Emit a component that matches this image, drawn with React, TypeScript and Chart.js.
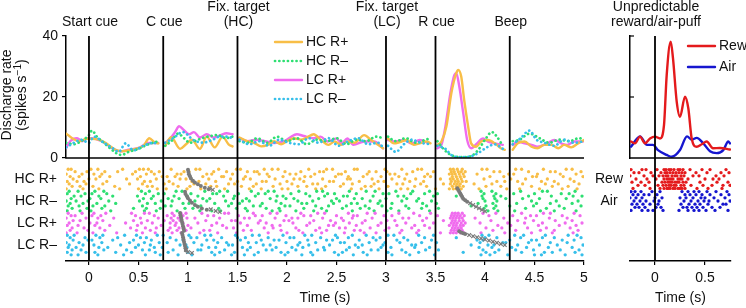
import React, { useEffect, useRef } from "react";
import { Chart, registerables } from "chart.js";

Chart.register(...registerables);

const W = 746;
const H = 308;
const FONT = "'Liberation Sans', Arial, Helvetica, sans-serif";
const INK = "#111";

const COL_HCRP = "#F8BE47";
const COL_HCRM = "#2EDF72";
const COL_LCRP = "#F06CEE";
const COL_LCRM = "#36BFEA";
const COL_REW = "#E41A1C";
const COL_AIR = "#1616CF";
const COL_GRAY = "#7A7A7A";

// ---------- axes / labels ----------
const MAIN_X_MIN = -0.232;
const MAIN_X_MAX = 5.0;
const MAIN_X_TICKS = [0, 0.5, 1, 1.5, 2, 2.5, 3, 3.5, 4, 4.5, 5];
const SIDE_X_MIN = -0.25;
const SIDE_X_MAX = 0.76;
const SIDE_X_TICKS = [0, 0.5];
const RATE_TICKS = [0, 20, 40];
const SIDE_RATE_TICKS = [20, 40];
const EVENT_TIMES = [0, 0.75, 1.5, 3.0, 3.5, 4.25];
const EVENT_LABELS = [["Start cue"], ["C cue"], ["Fix. target", "(HC)"], ["Fix. target", "(LC)"], ["R cue"], ["Beep"]];
const ROW_LABELS = ["HC R+", "HC R–", "LC R+", "LC R–"];
const SIDE_ROW_LABELS = ["Rew", "Air"];
const RASTER_Y_MIN = -0.455;
const RASTER_Y_MAX = 4.227;

// ---------- discharge rate curves: [time (s), rate (spikes/s)], null = break ----------
const HC_RP = [
  [-0.23, 8.0], [-0.17, 6.5], [-0.1, 5.5], [-0.02, 6.3], [0.03, 6.3], [0.1, 6.0], [0.17, 4.9], [0.27, 2.7], [0.33, 2.2], [0.43, 2.7], [0.5, 3.2], [0.55, 4.0], [0.61, 6.5], [0.66, 5.2], [0.7, 4.8],
  [0.74, null],
  [0.77, 4.0], [0.83, 6.8], [0.92, 3.0], [0.98, 4.5], [1.04, 6.0], [1.12, 3.0], [1.19, 7.0], [1.27, 3.5], [1.35, 7.0], [1.41, 4.5], [1.45, 3.8],
  [1.49, null],
  [1.52, 6.7], [1.6, 5.5], [1.67, 4.9], [1.74, 3.8], [1.8, 4.2], [1.87, 5.5], [1.94, 4.5], [2.0, 5.5], [2.07, 6.5], [2.14, 6.0], [2.2, 6.7], [2.27, 7.8], [2.34, 6.0], [2.42, 4.3], [2.48, 5.4], [2.55, 4.3], [2.61, 5.4], [2.68, 5.0], [2.78, 7.5], [2.85, 5.9], [2.92, 4.3], [2.97, 3.2],
  [3.0, null],
  [3.02, 6.4], [3.08, 4.8], [3.14, 5.2], [3.21, 5.9], [3.28, 4.3], [3.34, 4.8], [3.41, 5.4], [3.45, 4.8],
  [3.49, null],
  [3.52, 4.3], [3.56, 5.4], [3.61, 10.3], [3.66, 21.2], [3.71, 27.8], [3.73, 28.9], [3.76, 26.7], [3.79, 19.0], [3.83, 10.3], [3.86, 4.8], [3.91, 3.7], [3.96, 5.4], [4.03, 5.9], [4.1, 4.8], [4.16, 3.2], [4.2, 2.7],
  [4.24, null],
  [4.28, 2.7], [4.33, 4.8], [4.4, 5.4], [4.47, 3.7], [4.53, 3.2], [4.6, 4.3], [4.67, 4.3], [4.74, 3.2], [4.8, 4.3], [4.87, 3.5], [4.94, 4.8], [5.0, 5.9],
];

const LC_RP = [
  [-0.23, 3.3], [-0.19, 5.5], [-0.12, 6.5], [-0.07, 5.5], [-0.02, 6.5], [0.03, 6.5], [0.13, 5.5], [0.23, 3.3], [0.32, 2.2], [0.4, 2.7], [0.5, 3.3], [0.6, 4.9], [0.7, 4.9],
  [0.74, null],
  [0.77, 4.9], [0.82, 6.4], [0.87, 8.5], [0.91, 10.4], [0.96, 9.1], [1.01, 7.8], [1.06, 8.5], [1.12, 6.7], [1.19, 7.8], [1.26, 6.7], [1.33, 7.5], [1.39, 8.1], [1.45, 7.8],
  [1.49, null],
  [1.52, 6.5], [1.6, 5.5], [1.69, 6.0], [1.78, 5.5], [1.87, 4.9], [1.97, 5.5], [2.03, 6.7], [2.1, 7.8], [2.17, 7.2], [2.27, 6.5], [2.34, 7.0], [2.41, 5.4], [2.5, 6.4], [2.55, 4.8], [2.61, 6.4], [2.67, 4.3], [2.78, 5.4], [2.88, 5.4], [2.97, 3.2],
  [3.0, null],
  [3.02, 5.9], [3.1, 5.4], [3.18, 5.9], [3.26, 4.8], [3.34, 5.9], [3.43, 4.8],
  [3.49, null],
  [3.52, 3.2], [3.56, 4.3], [3.6, 10.3], [3.65, 21.2], [3.69, 27.2], [3.71, 27.8], [3.74, 23.5], [3.78, 14.8], [3.82, 5.9], [3.86, 3.2], [3.92, 4.8], [3.98, 6.4], [4.03, 5.4], [4.1, 4.8], [4.18, 4.3],
  [4.24, null],
  [4.28, 4.3], [4.33, 5.4], [4.4, 4.8], [4.47, 4.3], [4.53, 3.7], [4.63, 4.8], [4.7, 5.9], [4.77, 4.8], [4.83, 4.3], [4.9, 5.4], [4.99, 5.4],
];

const HC_RM = [
  [-0.23, 5.0], [-0.15, 4.5], [-0.08, 5.5], [0.0, 7.5], [0.03, 9.0], [0.08, 7.0], [0.15, 5.0], [0.22, 3.0], [0.28, 1.5], [0.33, 1.0], [0.4, 2.0], [0.5, 3.0], [0.6, 4.5], [0.7, 5.5],
  [0.74, null],
  [0.77, 4.0], [0.83, 5.5], [0.9, 8.0], [0.96, 6.5], [1.02, 5.0], [1.1, 6.0], [1.2, 7.0], [1.3, 7.5], [1.38, 6.5], [1.45, 7.0],
  [1.49, null],
  [1.52, 5.5], [1.6, 5.0], [1.7, 6.5], [1.8, 5.0], [1.9, 7.0], [2.0, 5.5], [2.1, 6.5], [2.2, 4.5], [2.3, 6.0], [2.4, 5.5], [2.5, 6.5], [2.6, 4.5], [2.7, 6.0], [2.8, 5.5], [2.9, 7.0], [2.97, 6.5],
  [3.0, null],
  [3.02, 7.0], [3.1, 5.5], [3.2, 6.5], [3.3, 5.0], [3.4, 6.0], [3.45, 6.5],
  [3.49, null],
  [3.52, 5.5], [3.58, 3.0], [3.63, 1.5], [3.7, 0.5], [3.8, 0.3], [3.88, 1.0], [3.94, 3.0], [4.0, 6.0], [4.07, 8.5], [4.12, 7.0], [4.18, 4.0],
  [4.24, null],
  [4.28, 5.5], [4.35, 6.0], [4.45, 8.0], [4.55, 6.5], [4.65, 5.0], [4.75, 6.0], [4.85, 5.5], [4.95, 6.5], [5.0, 6.0],
];

const LC_RM = [
  [-0.23, 3.5], [-0.15, 5.0], [-0.08, 6.0], [0.0, 5.0], [0.05, 7.0], [0.15, 5.0], [0.25, 3.0], [0.3, 2.0], [0.37, 4.8], [0.45, 2.5], [0.55, 4.0], [0.65, 5.0], [0.7, 4.5],
  [0.74, null],
  [0.77, 5.0], [0.85, 6.5], [0.95, 8.5], [1.05, 6.0], [1.15, 5.0], [1.25, 6.0], [1.32, 7.0], [1.4, 7.0], [1.45, 6.5],
  [1.49, null],
  [1.52, 6.0], [1.62, 4.5], [1.72, 5.5], [1.82, 4.0], [1.92, 6.0], [2.02, 5.0], [2.12, 4.5], [2.22, 6.5], [2.32, 5.0], [2.42, 6.5], [2.52, 4.0], [2.62, 5.5], [2.72, 6.5], [2.82, 4.5], [2.92, 5.0], [2.97, 3.5],
  [3.0, null],
  [3.02, 4.0], [3.1, 2.0], [3.18, 4.5], [3.26, 6.0], [3.35, 5.0], [3.45, 4.5],
  [3.49, null],
  [3.52, 4.0], [3.6, 3.0], [3.66, 1.0], [3.72, 0.3], [3.8, 0.3], [3.88, 0.8], [3.95, 2.0], [4.02, 3.5], [4.1, 4.5], [4.18, 3.0],
  [4.24, null],
  [4.28, 4.5], [4.36, 6.5], [4.45, 9.0], [4.52, 6.0], [4.6, 5.0], [4.7, 4.0], [4.8, 6.0], [4.9, 5.0], [5.0, 5.5],
];

const REW = [
  [-0.24, 5.4], [-0.2, 4.8], [-0.15, 7.0], [-0.1, 4.8], [-0.05, 6.4], [0.0, 7.0], [0.05, 6.4], [0.09, 10.8], [0.117, 27.2], [0.157, 38.1], [0.18, 32.7], [0.217, 18.5], [0.25, 13.5], [0.3, 20.1], [0.333, 16.3], [0.367, 6.4], [0.417, 3.7], [0.467, 4.5], [0.517, 5.4], [0.58, 3.2], [0.65, 3.3], [0.75, 2.8],
];
const AIR = [
  [-0.24, 3.7], [-0.15, 7.1], [-0.08, 4.3], [-0.02, 4.3], [0.03, 2.6], [0.117, 1.0], [0.167, 0.4], [0.25, 2.6], [0.32, 7.1], [0.367, 6.0], [0.417, 6.6], [0.483, 4.8], [0.55, 2.2], [0.617, 1.6], [0.683, 2.6], [0.733, 5.4], [0.75, 4.8],
];

// ---------- rasters: spike times (centiseconds) per trial ----------
const HC_RP_SPIKES = [
  [-21, -18, 2, 9, 34, 51, 55, 60, 83, 108, 112, 131, 149, 153, 177, 185, 191, 222, 240, 246, 268, 271, 299, 316, 332, 336, 365, 368, 372, 377, 397, 402, 431, 437, 459, 482, 488],
  [-14, -2, 16, 29, 47, 63, 71, 96, 101, 126, 139, 160, 167, 170, 198, 214, 233, 237, 259, 283, 290, 301, 327, 348, 366, 369, 373, 376, 380, 409, 415, 444, 466, 471, 497],
  [-23, -7, 5, 13, 44, 58, 66, 89, 93, 119, 124, 145, 172, 180, 203, 209, 228, 252, 255, 281, 304, 309, 321, 342, 364, 367, 370, 374, 378, 392, 424, 429, 453, 476, 492],
  [-19, -10, 11, 21, 52, 74, 79, 87, 115, 134, 136, 158, 182, 196, 218, 224, 249, 262, 277, 295, 313, 339, 345, 367, 371, 375, 379, 405, 419, 448, 452, 479, 499],
  [-16, 0, 7, 38, 49, 68, 92, 98, 121, 143, 156, 163, 188, 207, 213, 236, 261, 264, 286, 306, 319, 330, 355, 365, 368, 372, 376, 399, 426, 441, 463, 486],
  [-22, -12, -5, 18, 56, 62, 81, 104, 111, 128, 150, 175, 179, 200, 217, 243, 247, 273, 292, 298, 324, 338, 366, 370, 373, 377, 381, 412, 420, 433, 457, 470, 490],
  [-20, -3, 14, 41, 54, 76, 85, 106, 118, 141, 147, 169, 193, 205, 226, 231, 257, 266, 288, 311, 317, 335, 358, 365, 369, 372, 375, 389, 407, 438, 461, 474, 495],
  [-17, -9, 4, 26, 59, 64, 90, 102, 123, 129, 154, 166, 186, 211, 220, 239, 254, 279, 285, 302, 329, 341, 367, 371, 374, 378, 401, 416, 447, 468, 484],
  [-23, -6, 10, 31, 50, 69, 78, 99, 113, 137, 162, 174, 195, 201, 229, 235, 265, 275, 293, 315, 322, 350, 364, 368, 371, 376, 394, 422, 435, 455, 478, 493],
];
const HC_RM_SPIKES = [
  [-20, -11, 6, 15, 53, 61, 88, 94, 117, 132, 140, 164, 181, 187, 212, 230, 236, 263, 280, 289, 310, 327, 344, 396, 407, 436, 458, 463, 491],
  [-22, -4, 3, 18, 57, 70, 76, 103, 125, 129, 151, 171, 178, 204, 219, 241, 248, 270, 297, 303, 325, 339, 352, 399, 411, 429, 450, 477, 485],
  [-15, -8, 10, 24, 49, 65, 86, 99, 110, 136, 147, 168, 190, 196, 223, 238, 257, 261, 287, 312, 318, 348, 371, 397, 409, 416, 444, 467, 489, 498],
  [-18, 1, 12, 55, 63, 80, 91, 115, 122, 146, 159, 183, 199, 207, 232, 250, 268, 276, 300, 321, 333, 398, 410, 421, 438, 455, 482],
  [-23, -13, -1, 20, 51, 73, 84, 107, 119, 138, 155, 162, 189, 211, 226, 245, 253, 284, 294, 316, 331, 346, 400, 412, 447, 472, 494],
  [-19, -6, 8, 27, 59, 67, 95, 101, 127, 144, 152, 175, 194, 215, 220, 247, 265, 271, 292, 306, 337, 351, 393, 408, 432, 452, 466, 488],
  [-21, -10, 4, 16, 54, 77, 83, 109, 113, 141, 166, 173, 198, 203, 229, 242, 260, 279, 296, 320, 341, 386, 401, 411, 425, 449, 475, 497],
  [-17, -2, 13, 45, 58, 72, 97, 105, 131, 149, 158, 179, 192, 217, 235, 256, 274, 283, 305, 323, 336, 353, 399, 409, 441, 462, 480],
  [-22, -9, 2, 22, 56, 68, 89, 112, 124, 133, 160, 185, 193, 209, 227, 240, 266, 288, 301, 313, 344, 403, 413, 430, 456, 470, 492],
];
const LC_RP_SPIKES = [
  [-21, -7, 5, 17, 43, 56, 61, 84, 93, 98, 114, 137, 141, 166, 183, 190, 214, 231, 238, 262, 281, 289, 313, 328, 345, 367, 370, 373, 377, 398, 411, 437, 459, 466, 490],
  [-18, -14, 3, 12, 47, 66, 79, 86, 95, 120, 126, 151, 168, 175, 199, 217, 224, 250, 267, 271, 298, 306, 334, 352, 366, 369, 372, 375, 379, 404, 428, 446, 452, 478, 496],
  [-23, -3, 9, 25, 52, 70, 83, 90, 99, 107, 132, 157, 162, 188, 205, 211, 236, 255, 266, 286, 317, 323, 341, 365, 368, 371, 374, 377, 390, 419, 441, 465, 483],
  [-16, -9, 14, 45, 59, 76, 85, 92, 118, 144, 148, 173, 197, 202, 227, 244, 257, 279, 301, 309, 337, 358, 367, 370, 374, 378, 406, 433, 449, 471, 488],
  [-20, 1, 8, 37, 53, 64, 82, 88, 95, 110, 129, 153, 171, 179, 206, 223, 249, 263, 276, 295, 320, 348, 366, 369, 372, 376, 380, 395, 423, 440, 458, 481, 498],
  [-22, -11, 6, 21, 49, 73, 87, 100, 124, 135, 160, 185, 193, 220, 242, 247, 270, 292, 311, 329, 339, 364, 368, 371, 375, 378, 413, 426, 454, 475, 492],
  [-17, -5, 11, 42, 57, 68, 82, 91, 96, 103, 139, 146, 177, 186, 209, 233, 253, 259, 284, 303, 326, 344, 367, 370, 373, 376, 401, 417, 443, 462, 486],
  [-19, -1, 16, 48, 62, 80, 89, 98, 116, 122, 156, 164, 194, 212, 229, 240, 268, 274, 299, 316, 333, 366, 369, 372, 374, 377, 408, 431, 456, 470, 494],
  [-23, -12, 4, 28, 54, 67, 84, 93, 112, 130, 149, 181, 200, 216, 235, 258, 278, 290, 314, 331, 355, 365, 368, 371, 375, 379, 396, 420, 447, 468, 489],
];
const LC_RM_SPIKES = [
  [-22, -15, 7, 14, 36, 48, 69, 75, 101, 117, 123, 148, 165, 172, 196, 218, 225, 249, 266, 280, 302, 308, 333, 348, 397, 404, 430, 439, 461, 484, 493],
  [-19, -4, 11, 29, 52, 58, 82, 103, 109, 134, 150, 158, 181, 203, 207, 234, 251, 262, 287, 294, 318, 339, 371, 400, 412, 436, 458, 470, 497],
  [-16, -1, 3, 24, 45, 63, 88, 95, 119, 126, 153, 174, 187, 192, 221, 240, 246, 273, 290, 311, 322, 346, 392, 398, 425, 447, 452, 478, 490],
  [-23, -10, 13, 41, 56, 71, 79, 106, 130, 139, 161, 169, 199, 213, 229, 254, 258, 283, 299, 314, 336, 351, 395, 418, 421, 444, 466, 483],
  [-20, -6, 5, 32, 50, 62, 92, 98, 114, 141, 145, 176, 183, 211, 222, 243, 269, 276, 297, 326, 330, 386, 403, 409, 433, 455, 473, 499],
  [-21, -13, 10, 19, 47, 66, 74, 99, 121, 128, 155, 163, 189, 205, 216, 237, 263, 272, 295, 305, 329, 344, 394, 407, 427, 442, 464, 488],
  [-17, -8, 15, 38, 54, 61, 85, 110, 113, 137, 160, 179, 185, 209, 231, 238, 260, 285, 292, 316, 340, 353, 398, 414, 431, 449, 476, 495],
  [-22, -3, 6, 27, 43, 67, 80, 100, 124, 132, 147, 171, 194, 201, 224, 248, 256, 277, 302, 320, 333, 378, 401, 410, 437, 460, 468, 491],
  [-18, -11, 9, 35, 57, 72, 90, 104, 127, 144, 157, 167, 198, 215, 226, 252, 267, 281, 306, 324, 349, 396, 405, 423, 450, 457, 481, 498],
];
const REW_SPIKES = [
  [-24, -13, -9, 2, 9, 11, 14, 16, 19, 23, 25, 28, 35, 47, 55, 71],
  [-21, -16, -4, 6, 10, 12, 15, 18, 21, 24, 27, 30, 41, 52, 66, 74],
  [-25, -11, -2, 4, 8, 11, 13, 17, 20, 22, 26, 29, 38, 44, 61, 69],
  [-19, -8, 1, 9, 12, 14, 16, 18, 23, 25, 27, 33, 50, 58, 64],
  [-23, -14, -6, 7, 10, 13, 15, 17, 20, 22, 24, 28, 31, 45, 62, 73],
  [-17, -10, 3, 8, 11, 14, 16, 19, 21, 26, 29, 36, 48, 57, 68, 75],
  [-22, -5, 5, 9, 12, 13, 15, 18, 20, 23, 25, 27, 30, 42, 53, 67],
];
const AIR_SPIKES = [
  [-24, -20, -14, -3, 5, 27, 33, 39, 44, 52, 61, 72],
  [-22, -17, -11, -6, 2, 30, 35, 41, 47, 55, 66, 74],
  [-25, -19, -13, 0, 7, 25, 31, 38, 46, 50, 59, 70],
  [-21, -15, -9, -1, 4, 29, 36, 43, 49, 54, 63, 75],
  [-23, -18, -12, -5, 3, 26, 34, 40, 45, 53, 68, 71],
  [-20, -16, -10, 1, 6, 28, 32, 37, 42, 48, 57, 65],
  [-24, -13, -7, -2, 8, 24, 33, 39, 44, 51, 60, 73],
];

// gray trial-event markers: [time (s), raster row position]
const GRAY_DOTS = [
  [1.0, 0.08], [1.005, 0.18], [1.01, 0.28], [1.02, 0.38], [1.03, 0.48], [1.05, 0.58], [1.07, 0.66], [1.1, 0.74], [1.13, 0.82], [1.17, 0.9], [1.21, 0.96],
  [0.97, 1.08], [0.975, 1.18], [0.99, 1.28], [1.0, 1.38], [1.02, 1.48], [1.04, 1.58], [1.07, 1.68], [1.1, 1.76], [1.14, 1.84], [1.19, 1.9],
  [0.92, 2.05], [0.925, 2.15], [0.93, 2.25], [0.935, 2.35], [0.94, 2.45], [0.945, 2.55], [0.95, 2.65], [0.955, 2.75], [0.96, 2.85],
  [0.94, 2.95], [0.945, 3.05], [0.95, 3.15], [0.955, 3.25], [0.96, 3.35], [0.965, 3.45], [0.97, 3.55], [0.975, 3.65], [0.98, 3.75],
  [3.72, 0.92], [3.73, 1.0], [3.74, 1.08], [3.75, 1.16], [3.76, 1.24], [3.77, 1.32], [3.78, 1.4], [3.8, 1.47], [3.82, 1.53],
  [3.74, 2.88], [3.76, 2.93], [3.78, 2.97], [3.8, 3.0],
];
const GRAY_CROSSES = [
  [1.22, 0.92], [1.25, 0.99], [1.23, 1.88], [1.28, 1.95], [1.32, 2.0], [0.98, 3.72], [1.0, 3.82], [1.04, 3.86],
  [3.85, 1.6], [3.88, 1.68], [3.91, 1.76], [3.94, 1.83], [3.97, 1.9], [4.0, 1.97],
  [3.84, 3.05], [3.88, 3.1], [3.92, 3.15], [3.96, 3.2], [4.0, 3.25], [4.04, 3.3], [4.08, 3.35], [4.12, 3.4], [4.16, 3.45], [4.2, 3.5],
];

// ---------- helpers ----------
const toXY = (pairs: any[]) => pairs.map(([t, r]) => ({ x: t, y: r }));
const rasterPoints = (trials: number[][], row: number) => {
  const n = trials.length;
  const pts: any[] = [];
  trials.forEach((tr, k) => tr.forEach((cs) => pts.push({ x: cs / 100, y: row + (k + 0.5) / n })));
  return pts;
};
const font14 = { family: FONT, size: 14 };

const lineDs = (pairs: any[], color: string, dotted: boolean, order: number) => ({
  type: "line",
  data: toXY(pairs),
  borderColor: color,
  backgroundColor: color,
  borderWidth: dotted ? 2.7 : 2.4,
  borderDash: dotted ? [0.1, 4.2] : [],
  borderCapStyle: "round",
  borderJoinStyle: "round",
  pointRadius: 0,
  cubicInterpolationMode: "monotone",
  spanGaps: false,
  order,
});
const dotDs = (pts: any[], color: string, order: number) => ({
  data: pts,
  backgroundColor: color,
  borderWidth: 0,
  pointRadius: 1.65,
  pointBorderWidth: 0,
  order,
});

const baseOpts = (padding: any) => ({
  responsive: false,
  maintainAspectRatio: false,
  animation: false,
  devicePixelRatio: 1,
  events: [],
  layout: { padding },
  plugins: { legend: { display: false }, tooltip: { enabled: false }, title: { display: false } },
});

function vline(ctx: any, x: number, y0: number, y1: number, w = 1.8) {
  ctx.save();
  ctx.strokeStyle = "#000";
  ctx.lineWidth = w;
  ctx.beginPath();
  ctx.moveTo(x, y0);
  ctx.lineTo(x, y1);
  ctx.stroke();
  ctx.restore();
}
function hline(ctx: any, x0: number, x1: number, y: number, w = 1.5) {
  ctx.save();
  ctx.strokeStyle = "#000";
  ctx.lineWidth = w;
  ctx.beginPath();
  ctx.moveTo(x0, y);
  ctx.lineTo(x1, y);
  ctx.stroke();
  ctx.restore();
}
function legendItem(ctx: any, x0: number, x1: number, y: number, color: string, dotted: boolean, label: string) {
  ctx.save();
  ctx.strokeStyle = color;
  ctx.lineCap = "round";
  ctx.lineWidth = dotted ? 2.7 : 2.4;
  ctx.setLineDash(dotted ? [0.1, 4.2] : []);
  ctx.beginPath();
  ctx.moveTo(x0, y);
  ctx.lineTo(x1, y);
  ctx.stroke();
  ctx.setLineDash([]);
  ctx.fillStyle = INK;
  ctx.font = `14px ${FONT}`;
  ctx.textAlign = "left";
  ctx.textBaseline = "middle";
  ctx.fillText(label, x1 + 4, y + 0.5);
  ctx.restore();
}

const mainRateDecor = {
  id: "mainRateDecor",
  afterDraw(chart: any) {
    const { ctx, chartArea: a, scales } = chart;
    const x = scales.x;
    EVENT_TIMES.forEach((t) => vline(ctx, x.getPixelForValue(t), a.top, a.bottom));
    ctx.save();
    ctx.fillStyle = INK;
    ctx.font = `14px ${FONT}`;
    ctx.textAlign = "center";
    ctx.textBaseline = "alphabetic";
    EVENT_TIMES.forEach((t, i) => {
      const lines = EVENT_LABELS[i];
      const px = x.getPixelForValue(t) + 1;
      lines.forEach((ln, j) => ctx.fillText(ln, px, 26 - (lines.length - 1 - j) * 15));
    });
    // y title
    ctx.save();
    ctx.translate(11, 95);
    ctx.rotate(-Math.PI / 2);
    ctx.fillText("Discharge rate", 0, 0);
    ctx.restore();
    ctx.save();
    ctx.translate(26, 95);
    ctx.rotate(-Math.PI / 2);
    ctx.textAlign = "left";
    const a1 = "(spikes s";
    const sup = "−1";
    const b1 = ")";
    ctx.font = `14px ${FONT}`;
    const wa = ctx.measureText(a1).width;
    const wb = ctx.measureText(b1).width;
    ctx.font = `10px ${FONT}`;
    const ws = ctx.measureText(sup).width;
    const start = -(wa + ws + wb) / 2;
    ctx.font = `14px ${FONT}`;
    ctx.fillText(a1, start, 0);
    ctx.fillText(b1, start + wa + ws, 0);
    ctx.font = `10px ${FONT}`;
    ctx.fillText(sup, start + wa, -5);
    ctx.restore();
    ctx.restore();
    // legend
    const rows = [42, 61, 80, 99];
    legendItem(ctx, 275, 302, rows[0], COL_HCRP, false, ROW_LABELS[0]);
    legendItem(ctx, 275, 302, rows[1], COL_HCRM, true, ROW_LABELS[1]);
    legendItem(ctx, 275, 302, rows[2], COL_LCRP, false, ROW_LABELS[2]);
    legendItem(ctx, 275, 302, rows[3], COL_LCRM, true, ROW_LABELS[3]);
  },
};

const mainRasterDecor = {
  id: "mainRasterDecor",
  afterDraw(chart: any) {
    const { ctx, chartArea: a, scales } = chart;
    EVENT_TIMES.forEach((t) => vline(ctx, scales.x.getPixelForValue(t), a.top, a.bottom));
    hline(ctx, a.left - 0.75, a.right, a.top);
  },
};

const sideRateDecor = {
  id: "sideRateDecor",
  afterDraw(chart: any) {
    const { ctx, chartArea: a, scales } = chart;
    vline(ctx, scales.x.getPixelForValue(0), a.top, a.bottom);
    ctx.save();
    ctx.strokeStyle = "#000";
    ctx.lineWidth = 1.2;
    SIDE_RATE_TICKS.forEach((v) => {
      const py = scales.y.getPixelForValue(v);
      ctx.beginPath();
      ctx.moveTo(a.left, py);
      ctx.lineTo(a.left + 4, py);
      ctx.stroke();
    });
    ctx.fillStyle = INK;
    ctx.font = `14px ${FONT}`;
    ctx.textAlign = "center";
    ctx.textBaseline = "alphabetic";
    ctx.fillText("Unpredictable", 656, 11);
    ctx.fillText("reward/air-puff", 656, 26);
    ctx.restore();
    legendItem(ctx, 688, 715, 46, COL_REW, false, "Rew");
    legendItem(ctx, 688, 715, 67, COL_AIR, false, "Air");
  },
};

const sideRasterDecor = {
  id: "sideRasterDecor",
  afterDraw(chart: any) {
    const { ctx, chartArea: a, scales } = chart;
    vline(ctx, scales.x.getPixelForValue(0), a.top, a.bottom);
    hline(ctx, a.left, a.right, a.top);
    ctx.save();
    ctx.fillStyle = INK;
    ctx.font = `14px ${FONT}`;
    ctx.textAlign = "center";
    ctx.textBaseline = "middle";
    SIDE_ROW_LABELS.forEach((lab, i) => ctx.fillText(lab, 609, scales.y.getPixelForValue(i + 0.5)));
    ctx.restore();
  },
};

const xAxisBottom = (min: number, max: number, ticks: number[]) => ({
  type: "linear",
  min,
  max,
  afterBuildTicks: (s: any) => {
    s.ticks = ticks.map((v) => ({ value: v }));
  },
  afterFit: (s: any) => {
    s.height = 47;
  },
  ticks: { color: INK, font: font14, padding: 5, maxRotation: 0, autoSkip: false, callback: (v: any) => String(v) },
  grid: { display: true, drawOnChartArea: false, drawTicks: true, tickLength: 4, color: "#000", lineWidth: 1.2 },
  border: { display: true, color: "#000", width: 1.5 },
  title: { display: true, text: "Time (s)", color: INK, font: font14, padding: { top: 0, bottom: 1 } },
});

export default function App() {
  const r1 = useRef<HTMLCanvasElement>(null);
  const r2 = useRef<HTMLCanvasElement>(null);
  const r3 = useRef<HTMLCanvasElement>(null);
  const r4 = useRef<HTMLCanvasElement>(null);

  useEffect(() => {
    const charts: any[] = [];

    charts.push(
      new Chart(r1.current as any, {
        type: "line",
        data: {
          datasets: [
            lineDs(LC_RP, COL_LCRP, false, 4),
            lineDs(HC_RP, COL_HCRP, false, 3),
            lineDs(HC_RM, COL_HCRM, true, 2),
            lineDs(LC_RM, COL_LCRM, true, 1),
          ] as any,
        },
        options: {
          ...baseOpts({ left: 0, top: 36, right: W - 584, bottom: H - 158 }),
          scales: {
            x: { type: "linear", min: MAIN_X_MIN, max: MAIN_X_MAX, display: false },
            y: {
              type: "linear",
              min: 0,
              max: 40,
              afterBuildTicks: (s: any) => {
                s.ticks = RATE_TICKS.map((v) => ({ value: v }));
              },
              afterFit: (s: any) => {
                s.width = 66;
              },
              ticks: { color: INK, font: font14, padding: 4 },
              grid: { display: true, drawOnChartArea: false, drawTicks: true, tickLength: 4, color: "#000", lineWidth: 1.2 },
              border: { display: true, color: "#000", width: 1.5 },
            },
          },
        } as any,
        plugins: [mainRateDecor],
      })
    );

    charts.push(
      new Chart(r2.current as any, {
        type: "scatter",
        data: {
          datasets: [
            dotDs(rasterPoints(HC_RP_SPIKES, 0), COL_HCRP, 4),
            dotDs(rasterPoints(HC_RM_SPIKES, 1), COL_HCRM, 3),
            dotDs(rasterPoints(LC_RP_SPIKES, 2), COL_LCRP, 2),
            dotDs(rasterPoints(LC_RM_SPIKES, 3), COL_LCRM, 1),
            { data: toXY(GRAY_DOTS), backgroundColor: COL_GRAY, pointRadius: 2, pointBorderWidth: 0, borderWidth: 0, order: -1 },
            {
              data: toXY(GRAY_CROSSES),
              pointStyle: "crossRot",
              pointRadius: 2.6,
              borderColor: COL_GRAY,
              backgroundColor: COL_GRAY,
              pointBorderWidth: 1.2,
              borderWidth: 1.2,
              order: -2,
            },
          ] as any,
        },
        options: {
          ...baseOpts({ left: 0, top: 158, right: W - 584, bottom: 0 }),
          scales: {
            x: xAxisBottom(MAIN_X_MIN, MAIN_X_MAX, MAIN_X_TICKS),
            y: {
              type: "linear",
              min: RASTER_Y_MIN,
              max: RASTER_Y_MAX,
              reverse: true,
              afterBuildTicks: (s: any) => {
                s.ticks = ROW_LABELS.map((_, i) => ({ value: i + 0.5 }));
              },
              afterFit: (s: any) => {
                s.width = 66;
              },
              ticks: { color: INK, font: font14, padding: 9, callback: (v: any) => ROW_LABELS[Math.round(v - 0.5)] },
              grid: { display: false, drawTicks: false },
              border: { display: false },
            },
          },
        } as any,
        plugins: [mainRasterDecor],
      })
    );

    charts.push(
      new Chart(r3.current as any, {
        type: "line",
        data: {
          datasets: [lineDs(AIR, COL_AIR, false, 2), lineDs(REW, COL_REW, false, 1)] as any,
        },
        options: {
          ...baseOpts({ left: 630, top: 36, right: W - 731, bottom: H - 158 }),
          scales: {
            x: { type: "linear", min: SIDE_X_MIN, max: SIDE_X_MAX, display: false },
            y: {
              type: "linear",
              min: 0,
              max: 40,
              afterFit: (s: any) => {
                s.width = 0;
              },
              ticks: { display: false },
              grid: { display: false, drawTicks: false },
              border: { display: true, color: "#000", width: 1.5 },
            },
          },
        } as any,
        plugins: [sideRateDecor],
      })
    );

    charts.push(
      new Chart(r4.current as any, {
        type: "scatter",
        data: {
          datasets: [dotDs(rasterPoints(REW_SPIKES, 0), COL_REW, 2), dotDs(rasterPoints(AIR_SPIKES, 1), COL_AIR, 1)] as any,
        },
        options: {
          ...baseOpts({ left: 630, top: 158, right: W - 731, bottom: 0 }),
          scales: {
            x: xAxisBottom(SIDE_X_MIN, SIDE_X_MAX, SIDE_X_TICKS),
            y: { type: "linear", min: RASTER_Y_MIN, max: RASTER_Y_MAX, reverse: true, display: false },
          },
        } as any,
        plugins: [sideRasterDecor],
      })
    );

    return () => charts.forEach((c) => c.destroy());
  }, []);

  const cs: any = { position: "absolute", left: 0, top: 0, width: W, height: H };
  return (
    <div style={{ position: "fixed", left: 0, top: 0, width: W, height: H, background: "#fff" }}>
      <canvas ref={r1} width={W} height={H} style={cs} />
      <canvas ref={r2} width={W} height={H} style={cs} />
      <canvas ref={r3} width={W} height={H} style={cs} />
      <canvas ref={r4} width={W} height={H} style={cs} />
    </div>
  );
}
